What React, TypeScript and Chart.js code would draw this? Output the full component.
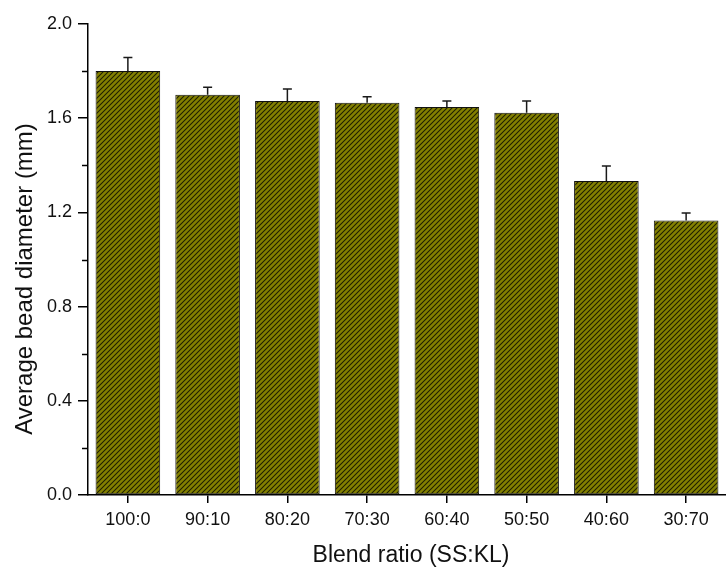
import React, { useEffect, useRef } from "react";
import { Chart, registerables } from "chart.js";

Chart.register(...registerables);

const categories = ["100:0", "90:10", "80:20", "70:30", "60:40", "50:50", "40:60", "30:70"];
const diameters = [1.8, 1.7, 1.673, 1.666, 1.648, 1.623, 1.333, 1.166];
const errors = [0.058, 0.031, 0.051, 0.025, 0.025, 0.05, 0.064, 0.031];
const majorTicks = [0, 0.4, 0.8, 1.2, 1.6, 2.0];
const minorTicks = [0.2, 0.6, 1.0, 1.4, 1.8];
const xTitle = "Blend ratio (SS:KL)";
const yTitle = "Average bead diameter (mm)";

const FONT = "Arial, 'Liberation Sans', sans-serif";

function makePattern(): CanvasPattern | string {
  const c = document.createElement("canvas");
  c.width = 5;
  c.height = 5;
  const ctx = c.getContext("2d");
  if (!ctx) return "#808000";
  ctx.fillStyle = "#838000";
  ctx.fillRect(0, 0, 5, 5);
  ctx.strokeStyle = "#1e1e00";
  ctx.lineWidth = 1.05;
  ctx.beginPath();
  ctx.moveTo(-1, 6);
  ctx.lineTo(6, -1);
  ctx.moveTo(-1, 1);
  ctx.lineTo(1, -1);
  ctx.moveTo(4, 6);
  ctx.lineTo(6, 4);
  ctx.stroke();
  const p = ctx.createPattern(c, "repeat");
  return p || "#808000";
}

const extrasPlugin = {
  id: "extras",
  afterDatasetsDraw(chart: any) {
    const ctx = chart.ctx;
    const y = chart.scales.y;
    const meta = chart.getDatasetMeta(0);
    ctx.save();
    ctx.strokeStyle = "#1a1a1a";
    ctx.lineWidth = 1.5;
    meta.data.forEach((bar: any, i: number) => {
      const x = bar.x;
      const yv = y.getPixelForValue(diameters[i]);
      const ye = y.getPixelForValue(diameters[i] + errors[i]);
      ctx.beginPath();
      ctx.moveTo(x, yv);
      ctx.lineTo(x, ye);
      ctx.moveTo(x - 4.5, ye);
      ctx.lineTo(x + 4.5, ye);
      ctx.stroke();
    });
    // minor ticks
    ctx.strokeStyle = "#000";
    ctx.lineWidth = 1.5;
    const left = chart.chartArea.left;
    minorTicks.forEach((v) => {
      const py = Math.round(y.getPixelForValue(v)) + 0.5;
      ctx.beginPath();
      ctx.moveTo(left - 6, py);
      ctx.lineTo(left, py);
      ctx.stroke();
    });
    // axis titles
    ctx.fillStyle = "#111";
    ctx.textAlign = "center";
    ctx.textBaseline = "alphabetic";
    ctx.font = `23px ${FONT}`;
    ctx.fillText(xTitle, 411, 562);
    ctx.translate(32, 279);
    ctx.rotate(-Math.PI / 2);
    ctx.font = `24px ${FONT}`;
    ctx.fillText(yTitle, 0, 0);
    ctx.restore();
  },
};

export default function App() {
  const ref = useRef<HTMLCanvasElement>(null);
  useEffect(() => {
    if (!ref.current) return;
    const pattern = makePattern();
    const chart = new Chart(ref.current, {
      type: "bar",
      data: {
        labels: categories,
        datasets: [
          {
            data: diameters,
            backgroundColor: pattern as any,
            borderColor: "#111",
            borderWidth: 1,
            borderSkipped: false,
            barPercentage: 0.81,
            categoryPercentage: 1,
          },
        ],
      },
      options: {
        responsive: false,
        maintainAspectRatio: false,
        devicePixelRatio: 1,
        animation: false,
        layout: { padding: { top: 24, right: 0, left: 0, bottom: 0 } },
        plugins: { legend: { display: false }, tooltip: { enabled: false } },
        scales: {
          x: {
            offset: true,
            grid: {
              offset: false,
              drawOnChartArea: false,
              drawTicks: true,
              tickLength: 8,
              color: "#000",
              lineWidth: 1.5,
            },
            border: { display: true, color: "#000", width: 1.5 },
            ticks: { color: "#111", font: { family: FONT, size: 18 }, padding: 6 },
            afterFit: (s: any) => {
              s.height = 72;
            },
          },
          y: {
            min: 0,
            max: 2.0,
            afterBuildTicks: (s: any) => {
              s.ticks = majorTicks.map((v) => ({ value: v }));
            },
            grid: {
              drawOnChartArea: false,
              drawTicks: true,
              tickLength: 10,
              color: "#000",
              lineWidth: 1.5,
            },
            border: { display: true, color: "#000", width: 1.5 },
            ticks: {
              color: "#111",
              font: { family: FONT, size: 18 },
              padding: 6,
              callback: (v: any) => Number(v).toFixed(1),
            },
            afterFit: (s: any) => {
              s.width = 88;
            },
          },
        },
      },
      plugins: [extrasPlugin],
    });
    return () => chart.destroy();
  }, []);
  return (
    <div style={{ position: "fixed", left: 0, top: 0, width: 726, height: 567, background: "#fff" }}>
      <canvas ref={ref} width={726} height={567} style={{ display: "block", width: 726, height: 567 }} />
    </div>
  );
}
